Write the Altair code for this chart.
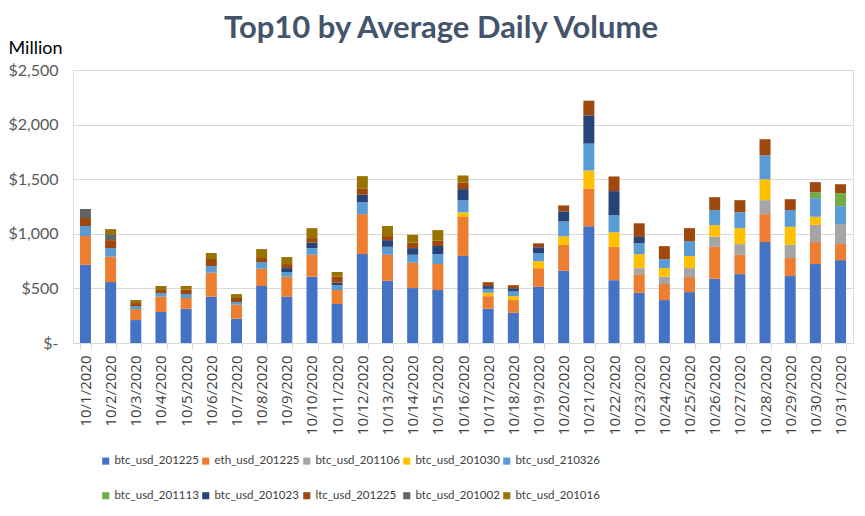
import altair as alt
import pandas as pd

dates = [f"10/{d}/2020" for d in range(1, 32)]

series_names = [
    "btc_usd_201225", "eth_usd_201225", "btc_usd_201106", "btc_usd_201030",
    "btc_usd_210326", "btc_usd_201113", "btc_usd_201023", "ltc_usd_201225",
    "btc_usd_201002", "btc_usd_201016",
]
colors = ["#4472C4", "#ED7D31", "#A5A5A5", "#FFC000", "#5B9BD5",
          "#70AD47", "#264478", "#9E480E", "#636363", "#997300"]

btc_usd_201225 = [717, 558, 210, 284, 314, 424, 223, 522, 424, 607, 357, 814, 570, 503, 485, 798,
                  314, 277, 514, 661, 1068, 575, 460, 393, 466, 588, 631, 924, 613, 723, 759]
eth_usd_201225 = [262, 232, 101, 140, 98, 220, 128, 158, 183, 201, 128, 366, 238, 232, 238, 356,
                  115, 116, 171, 237, 347, 305, 170, 147, 138, 293, 177, 256, 165, 201, 147]
btc_usd_201106 = [0, 0, 0, 0, 0, 0, 0, 0, 0, 0, 0, 0, 0, 0, 0, 0,
                  0, 0, 0, 0, 0, 0, 55, 67, 82, 92, 98, 128, 121, 158, 183]
btc_usd_201030 = [0, 0, 0, 0, 0, 0, 0, 0, 0, 0, 0, 0, 0, 0, 0, 42,
                  31, 36, 64, 79, 165, 134, 128, 79, 110, 106, 146, 192, 165, 74, 0]
btc_usd_210326 = [92, 79, 28, 34, 36, 61, 24, 61, 43, 61, 46, 110, 73, 73, 91, 110,
                  36, 43, 73, 137, 246, 155, 100, 82, 137, 138, 146, 220, 153, 170, 164]
btc_usd_201113 = [0, 0, 0, 0, 0, 0, 0, 0, 0, 0, 0, 0, 0, 0, 0, 0,
                  0, 0, 0, 0, 0, 0, 0, 0, 0, 0, 0, 0, 0, 55, 119]
btc_usd_201023 = [0, 0, 0, 0, 0, 0, 0, 0, 36, 49, 21, 67, 61, 61, 74, 103,
                  25, 30, 55, 91, 259, 222, 58, 0, 0, 0, 0, 0, 0, 0, 0]
ltc_usd_201225 = [73, 73, 27, 27, 40, 64, 37, 37, 37, 43, 55, 55, 37, 49, 48, 61,
                  36, 28, 36, 55, 134, 134, 125, 119, 119, 118, 110, 146, 100, 92, 82]
btc_usd_201002 = [82, 55, 0, 0, 0, 0, 0, 0, 0, 0, 0, 0, 0, 0, 0, 0,
                  0, 0, 0, 0, 0, 0, 0, 0, 0, 0, 0, 0, 0, 0, 0]
btc_usd_201016 = [0, 46, 27, 37, 34, 55, 36, 82, 64, 91, 43, 116, 92, 73, 98, 64,
                  0, 0, 0, 0, 0, 0, 0, 0, 0, 0, 0, 0, 0, 0, 0]

series_values = [btc_usd_201225, eth_usd_201225, btc_usd_201106, btc_usd_201030,
                 btc_usd_210326, btc_usd_201113, btc_usd_201023, ltc_usd_201225,
                 btc_usd_201002, btc_usd_201016]

title_text = ["Top10 by Average Daily Volume"]

rows = []
for k, (name, vals) in enumerate(zip(series_names, series_values)):
    for d, v in zip(dates, vals):
        if v > 0:
            rows.append({"date": d, "series": name, "value": v, "k": k})
df = pd.DataFrame(rows)

bars = alt.Chart(df).mark_bar(size=11).encode(
    x=alt.X("date:N", sort=dates, title=None,
            scale=alt.Scale(paddingInner=0.55, paddingOuter=0.27),
            axis=alt.Axis(labelAngle=-90, tickBand="extent", grid=False,
                          domainColor="#D9D9D9", tickColor="#D9D9D9", tickSize=6,
                          labelFont="Open Sans", labelFontSize=15, labelColor="#404040",
                          labelPadding=6)),
    y=alt.Y("value:Q", stack="zero", title="Million",
            scale=alt.Scale(domain=[0, 2500], nice=False),
            axis=alt.Axis(values=[0, 500, 1000, 1500, 2000, 2500],
                          labelExpr="datum.value == 0 ? '$-' : '$' + format(datum.value, ',')",
                          domain=False, ticks=False, gridColor="#D9D9D9",
                          labelFont="Lato", labelFontSize=16, labelColor="#595959",
                          labelPadding=15,
                          titleAngle=0, titleAlign="left", titleBaseline="alphabetic",
                          titleX=-65, titleY=-17, titleFont="Lato", titleFontSize=18,
                          titleFontWeight="normal", titleColor="#000000")),
    color=alt.Color("series:N",
                    scale=alt.Scale(domain=series_names, range=colors),
                    legend=alt.Legend(title=None, orient="none", legendX=27, legendY=385,
                                      direction="horizontal", columns=5,
                                      symbolType="square", symbolSize=50,
                                      symbolStrokeWidth=0, symbolOpacity=1,
                                      labelFont="Lato", labelFontSize=11.5,
                                      labelColor="#404040", labelOffset=3,
                                      columnPadding=1, rowPadding=22, padding=0)),
    order=alt.Order("k:Q", sort="ascending"),
)

title = alt.Chart(pd.DataFrame({"t": title_text})).mark_text(
    font="Lato", fontSize=31, fontWeight="bold", color="#44546A",
    align="center", baseline="alphabetic",
).encode(text="t:N", x=alt.value(368), y=alt.value(-32))

chart = alt.layer(bars, title).properties(
    width=780,
    height=273,
    padding={"left": 73, "top": 70, "right": 12, "bottom": 173},
    autosize=alt.AutoSizeParams(type="none"),
).configure_view(stroke=None).configure(background="white")

chart.save("out.html", embed_options={"renderer": "svg", "actions": False})
